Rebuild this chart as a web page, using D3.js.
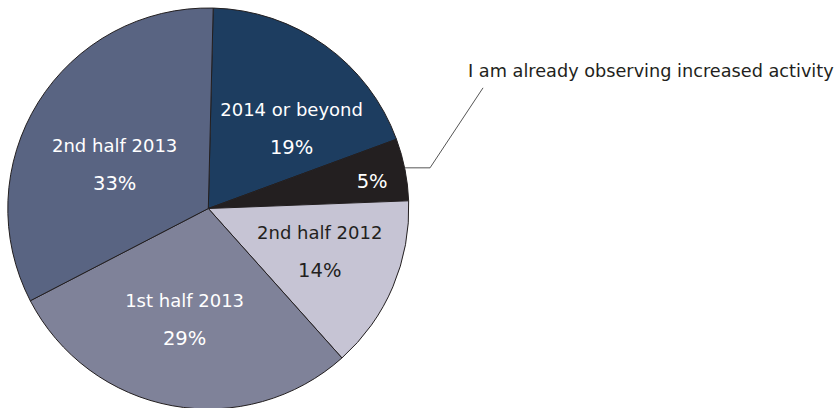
<!DOCTYPE html>
<html>
<head>
<meta charset="utf-8">
<script src="https://cdn.jsdelivr.net/npm/d3@7/dist/d3.min.js"></script>
<style>
  html, body { margin: 0; padding: 0; background: #fff; }
  svg { display: block; }
  text { font-family: "DejaVu Sans", sans-serif; }
</style>
</head>
<body>
<svg id="chart" width="836" height="408"></svg>
<script>
// Survey responses: when increased activity is expected
const categories = ["2014 or beyond", "I am already observing increased activity", "2nd half 2012", "1st half 2013", "2nd half 2013"];
const shares = [19, 5, 14, 29, 33];
const sliceColors = ["#1d3d60", "#231f20", "#c6c4d4", "#7f8299", "#596482"];
const textColors = ["#ffffff", "#ffffff", "#231f20", "#ffffff", "#ffffff"];
// label placement: [angle shift in degrees from slice middle, distance from centre]
const labelPlacement = [[13, 111], [2, 166], [1, 122], [1, 120], [-10, 101]];
// slice whose name is drawn outside with a leader line
const calloutIndex = 1;

const svg = d3.select("#chart");
const cx = 208.3, cy = 208.5, radius = 200.5;
const startAngle = 1.4 * Math.PI / 180;

const pie = d3.pie().sort(null).value(d => d)
  .startAngle(startAngle).endAngle(startAngle + 2 * Math.PI);
const arcs = pie(shares);
const arc = d3.arc().innerRadius(0).outerRadius(radius);

const g = svg.append("g").attr("transform", `translate(${cx},${cy})`);

g.selectAll("path.slice")
  .data(arcs)
  .join("path")
  .attr("class", "slice")
  .attr("d", arc)
  .attr("fill", (d, i) => sliceColors[i])
  .attr("stroke", "#231f20")
  .attr("stroke-width", 1)
  .attr("stroke-linejoin", "round");

function labelPoint(d, i) {
  const mid = (d.startAngle + d.endAngle) / 2 + labelPlacement[i][0] * Math.PI / 180;
  const r = labelPlacement[i][1];
  return [Math.sin(mid) * r, -Math.cos(mid) * r];
}

arcs.forEach((d, i) => {
  const [x, y] = labelPoint(d, i);
  const col = textColors[i];
  if (i !== calloutIndex) {
    g.append("text")
      .attr("x", x).attr("y", y - 19)
      .attr("text-anchor", "middle")
      .attr("font-size", 18)
      .attr("fill", col)
      .text(categories[i]);
    g.append("text")
      .attr("x", x).attr("y", y + 19)
      .attr("text-anchor", "middle")
      .attr("font-size", 19.5)
      .attr("fill", col)
      .text(shares[i] + "%");
  } else {
    g.append("text")
      .attr("x", x).attr("y", y + 6)
      .attr("text-anchor", "middle")
      .attr("font-size", 19.5)
      .attr("fill", col)
      .text(shares[i] + "%");
  }
});

// leader line from the small slice to its outside label
const callout = arcs[calloutIndex];
const edgeAngle = (callout.startAngle + callout.endAngle) / 2 - 0.5 * Math.PI / 180;
const edge = [Math.sin(edgeAngle) * radius, -Math.cos(edgeAngle) * radius];
const elbow = [edge[0] + 25.4, edge[1]];
const tip = [elbow[0] + 53, elbow[1] - 80];
g.append("polyline")
  .attr("points", [edge, elbow, tip].map(p => p.join(",")).join(" "))
  .attr("fill", "none")
  .attr("stroke", "#555")
  .attr("stroke-width", 1);

g.append("text")
  .attr("x", tip[0] - 15).attr("y", tip[1] - 11)
  .attr("font-size", 17.7)
  .attr("fill", "#231f20")
  .text(categories[calloutIndex]);
</script>
</body>
</html>
